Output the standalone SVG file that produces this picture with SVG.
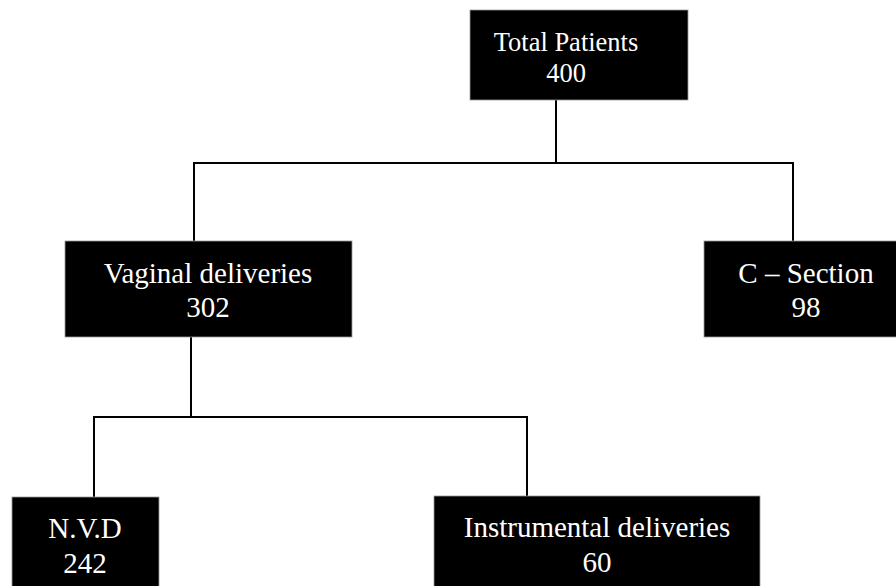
<svg xmlns="http://www.w3.org/2000/svg" width="896" height="586" viewBox="0 0 896 586">
<style>
.box{fill:#000;stroke:#999;stroke-width:0.8}
.t{fill:#fff;font-family:"Liberation Serif","Times New Roman",serif;font-size:29px;text-anchor:middle}
.s{font-size:26.5px}
.c{stroke:#000;stroke-width:2;fill:none}
</style>
<rect width="896" height="586" fill="#fff"/>
<g id="connectors">
<path class="c" d="M556 100V163"/>
<path class="c" d="M194 241V163H793V241"/>
<path class="c" d="M191 337V417"/>
<path class="c" d="M94 497V417H527V496"/>
</g>
<g id="total">
<rect class="box" x="470" y="10" width="218" height="90"/>
<text class="t s" x="566" y="51">Total Patients</text>
<text class="t s" x="566" y="82">400</text>
</g>
<g id="vaginal">
<rect class="box" x="65" y="241" width="287" height="96"/>
<text class="t" x="208" y="283">Vaginal deliveries</text>
<text class="t" x="208" y="317">302</text>
</g>
<g id="csection">
<rect class="box" x="704" y="241" width="200" height="96"/>
<text class="t" x="806" y="283">C – Section</text>
<text class="t" x="806" y="317">98</text>
</g>
<g id="nvd">
<rect class="box" x="12" y="497" width="147" height="100"/>
<text class="t" x="85" y="538">N.V.D</text>
<text class="t" x="85" y="573">242</text>
</g>
<g id="instrumental">
<rect class="box" x="434" y="496" width="326" height="100"/>
<text class="t" x="597" y="537">Instrumental deliveries</text>
<text class="t" x="597" y="572">60</text>
</g>
</svg>
